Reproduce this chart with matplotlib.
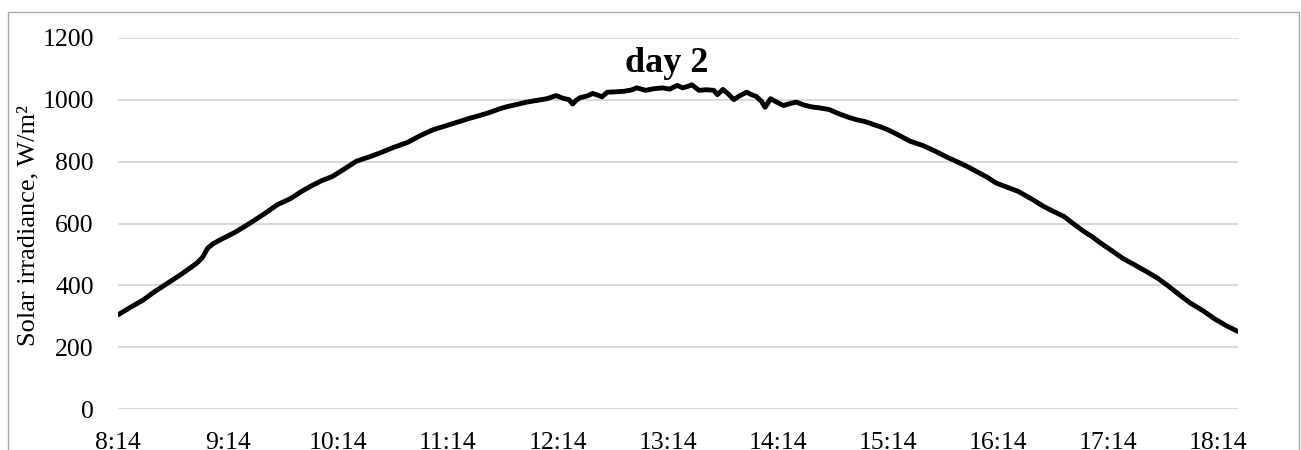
import matplotlib
matplotlib.use("Agg")
import matplotlib.pyplot as plt
from matplotlib.patches import Rectangle

# minutes after 8:14
minutes = [0, 7, 14, 20, 27, 35, 43, 46, 49, 52, 56, 64, 72, 80, 87, 94, 100, 105, 111, 117,
           124, 130, 137, 143, 150, 158, 165, 172, 178, 185, 192, 198, 203, 208, 212, 218, 223,
           229, 234, 239, 243, 246, 248, 250, 252, 256, 259, 262, 264, 267, 271, 276, 280, 283,
           286, 288, 292, 297, 301, 305, 308, 311, 313, 317, 321, 325, 327, 330, 333, 336, 339,
           343, 346, 348, 351, 353, 356, 360, 363, 367, 370, 374, 378, 383, 388, 393, 399, 403,
           407, 412, 417, 421, 426, 432, 439, 446, 452, 459, 464, 468, 474, 479, 486, 491, 499,
           505, 510, 516, 521, 527, 532, 536, 542, 548, 555, 561, 567, 573, 579, 585, 592, 598,
           604, 611]
irradiance = [305, 330, 354, 380, 407, 438, 472, 490, 521, 535, 548, 572, 601, 632, 661, 680,
              703, 720, 738, 752, 778, 801, 815, 828, 845, 862, 884, 903, 914, 927, 940, 950,
              959, 970, 977, 985, 992, 998, 1003, 1013, 1004, 1000, 986, 998, 1006, 1012, 1020,
              1014, 1009, 1024, 1025, 1027, 1031, 1038, 1033, 1030, 1035, 1038, 1034, 1046,
              1038, 1043, 1048, 1030, 1032, 1030, 1016, 1033, 1018, 1000, 1012, 1024, 1015,
              1011, 995, 975, 1003, 990, 981, 988, 992, 983, 977, 973, 968, 955, 942, 935, 930,
              920, 910, 900, 885, 866, 852, 833, 815, 796, 782, 769, 750, 731, 715, 704, 677,
              655, 640, 623, 600, 574, 555, 537, 513, 488, 465, 445, 424, 398, 370, 343, 318,
              293, 272, 251]
tick_minutes = [0, 60, 120, 180, 240, 300, 360, 420, 480, 540, 600]
tick_labels = ["8:14", "9:14", "10:14", "11:14", "12:14", "13:14", "14:14", "15:14",
               "16:14", "17:14", "18:14"]
y_ticks = [0, 200, 400, 600, 800, 1000, 1200]
title = "day 2"
ylabel = "Solar irradiance, W/m²"

plt.rcParams['font.family'] = ['Liberation Serif', 'DejaVu Serif']

W, H = 1301, 450
fig = plt.figure(figsize=(W / 100, H / 100), dpi=100)

# chart frame
fig.patches.append(Rectangle((8 / W, -0.1), (1299 - 8) / W, 1.1 - 12 / H,
                             transform=fig.transFigure, fill=False,
                             edgecolor='#a6a6a6', linewidth=1.0))

left, right, top, bottom = 118, 1238, 37.7, 409.3
ax = fig.add_axes([left / W, 1 - bottom / H, (right - left) / W, (bottom - top) / H])

ax.plot(minutes, irradiance, color='black', linewidth=3.5,
        solid_joinstyle='round', solid_capstyle='round', zorder=3)

ax.set_xlim(0, minutes[-1])
ax.set_ylim(0, 1200)
ax.set_yticks(y_ticks)
ax.set_yticklabels([str(v) for v in y_ticks])
ax.set_xticks(tick_minutes)
ax.set_xticklabels(tick_labels)
ax.tick_params(axis='both', length=0, labelsize=18.5, colors='black')
ax.tick_params(axis='y', pad=17.3)
ax.tick_params(axis='x', pad=16)
ax.grid(axis='y', color='#d9d9d9', linewidth=1.4)
ax.set_axisbelow(True)
for s in ax.spines.values():
    s.set_visible(False)

fig.text(28 / W, 1 - 225 / H, ylabel, rotation=90, ha='center', va='center', fontsize=19)
fig.text(667 / W, 1 - 63 / H, title, ha='center', va='center', fontsize=26, fontweight='bold')

fig.savefig("out.png", dpi=100)
